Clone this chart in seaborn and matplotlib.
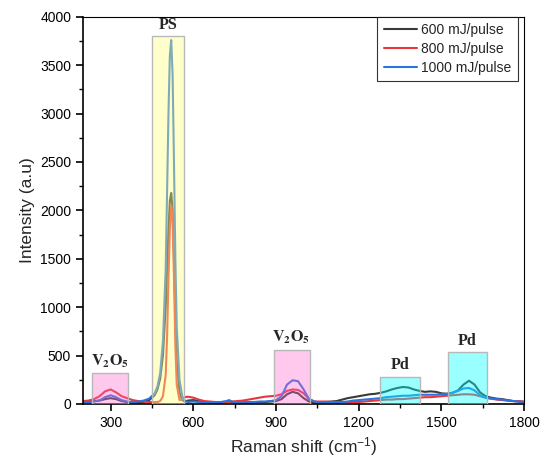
import matplotlib
matplotlib.use("Agg")
import matplotlib.pyplot as plt
import seaborn as sns
import pandas as pd
from matplotlib.ticker import MultipleLocator

# ---------------- data ----------------
raman_shift = [200, 220, 240, 260, 280, 300, 320, 340, 360, 380,
               400, 420, 440, 460, 470, 480, 490, 500, 505, 510,
               515, 520, 525, 530, 535, 540, 550, 560, 570, 580,
               600, 620, 640, 660, 680, 700, 720, 730, 740, 760,
               780, 800, 820, 840, 860, 880, 900, 920, 940, 960,
               980, 1000, 1020, 1040, 1060, 1080, 1100, 1120, 1140, 1160,
               1180, 1200, 1220, 1240, 1260, 1280, 1300, 1320, 1340, 1360,
               1380, 1400, 1420, 1440, 1460, 1480, 1500, 1520, 1540, 1560,
               1580, 1600, 1620, 1640, 1660, 1680, 1700, 1720, 1740, 1760,
               1780, 1800]

i_600 = [20, 25, 30, 35, 50, 60, 50, 30, 20, 15,
         15, 20, 40, 90, 150, 260, 500, 1000, 1400, 1800,
         2100, 2180, 2000, 1500, 900, 450, 120, 40, 25, 35,
         40, 30, 20, 15, 15, 15, 20, 25, 20, 15,
         15, 15, 15, 20, 20, 25, 30, 50, 100, 125,
         110, 60, 25, 15, 15, 20, 25, 30, 45, 60,
         70, 80, 90, 100, 105, 115, 130, 150, 165, 175,
         170, 150, 135, 125, 130, 125, 110, 105, 115, 140,
         200, 240, 200, 120, 80, 65, 55, 50, 40, 30,
         25, 20]

i_800 = [30, 35, 50, 80, 130, 150, 120, 80, 60, 40,
         30, 25, 20, 20, 20, 30, 80, 300, 700, 1300,
         1800, 2050, 1900, 1300, 600, 200, 40, 50, 70, 75,
         65, 45, 30, 25, 20, 20, 20, 25, 25, 30,
         35, 45, 55, 65, 75, 80, 85, 100, 135, 150,
         145, 110, 50, 25, 25, 25, 20, 20, 20, 20,
         20, 20, 25, 30, 35, 40, 45, 45, 50, 50,
         55, 60, 65, 70, 70, 75, 80, 85, 90, 95,
         100, 100, 95, 80, 65, 55, 45, 40, 35, 30,
         30, 25]

i_1000 = [20, 20, 25, 35, 70, 90, 70, 40, 25, 20,
          25, 35, 55, 110, 180, 320, 650, 1400, 2200, 3000,
          3600, 3760, 3400, 2500, 1500, 800, 250, 80, 30, 20,
          25, 20, 15, 15, 15, 20, 30, 40, 25, 15,
          15, 20, 20, 25, 25, 30, 40, 80, 200, 245,
          235, 150, 50, 25, 15, 15, 15, 15, 20, 25,
          35, 40, 45, 50, 55, 60, 70, 75, 80, 85,
          85, 90, 95, 95, 95, 95, 100, 105, 115, 135,
          160, 165, 140, 90, 65, 55, 50, 45, 35, 30,
          25, 20]

series_names = ["600 mJ/pulse", "800 mJ/pulse", "1000 mJ/pulse"]

# highlighted bands
band_left = [233, 451, 891, 1276, 1524]
band_right = [364, 567, 1022, 1422, 1665]
band_top = [320, 3800, 560, 280, 537]
band_labels = [r"$\mathbf{V_2O_5}$", "PS", r"$\mathbf{V_2O_5}$", "Pd", "Pd"]

# ---------------- style ----------------
sns.set_theme(style="ticks")
plt.rcParams["font.family"] = ["Liberation Sans", "DejaVu Sans"]
plt.rcParams["mathtext.fontset"] = "custom"
plt.rcParams["mathtext.rm"] = "Liberation Sans"
plt.rcParams["mathtext.it"] = "Liberation Sans:italic"
plt.rcParams["mathtext.bf"] = "Liberation Sans:bold"

line_colors = ["#3a3a3a", "#e8363c", "#2a74df"]
band_colors = ["#ff66cc", "#ffff80", "#ff66cc", "#00ffff", "#00ffff"]
band_alpha = [0.35, 0.4, 0.35, 0.4, 0.4]

df = pd.concat([
    pd.DataFrame({"shift": raman_shift, "intensity": vals, "series": name})
    for name, vals in zip(series_names, [i_600, i_800, i_1000])
], ignore_index=True)

fig = plt.figure(figsize=(5.46, 4.67), dpi=100)
ax = fig.add_axes([0.152, 0.135, 0.808, 0.829])

sns.lineplot(data=df, x="shift", y="intensity", hue="series",
             hue_order=series_names, palette=line_colors, linewidth=1.5,
             ax=ax, sort=False, estimator=None)

for l, r, t, lab, c, a in zip(band_left, band_right, band_top, band_labels,
                              band_colors, band_alpha):
    ax.bar(l, t, width=r - l, align="edge", color=c, alpha=a,
           edgecolor="none", zorder=3)
    ax.bar(l, t, width=r - l, align="edge", fill=False,
           edgecolor="#b8b8b8", linewidth=1.0, zorder=3)
    ax.text((l + r) / 2, t + 35, lab, ha="center", va="bottom",
            family="Liberation Serif", fontweight="bold", fontsize=11.5,
            math_fontfamily="stix", zorder=4)

ax.set_xlim(200, 1800)
ax.set_ylim(0, 4000)
ax.xaxis.set_major_locator(MultipleLocator(300))
ax.xaxis.set_minor_locator(MultipleLocator(150))
ax.yaxis.set_major_locator(MultipleLocator(500))
ax.yaxis.set_minor_locator(MultipleLocator(250))
ax.tick_params(axis="both", which="major", direction="out", length=5,
               width=1.2, labelsize=10, colors="black")
ax.tick_params(axis="both", which="minor", direction="out", length=3,
               width=1.0, colors="black")
for s in ax.spines.values():
    s.set_linewidth(1.2)
    s.set_color("black")
ax.spines["top"].set_visible(True)
ax.spines["right"].set_visible(True)
ax.spines["top"].set_linewidth(0.8)
ax.spines["right"].set_linewidth(0.8)

ax.set_xlabel(r"Raman shift (cm$^{-1}$)", fontsize=12.5)
ax.set_ylabel("Intensity (a.u)", fontsize=12.5)

leg = ax.legend(loc="upper right", bbox_to_anchor=(0.985, 1.0),
                borderaxespad=0, fontsize=10, handlelength=2.4,
                handletextpad=0.3, labelspacing=0.35, borderpad=0.45,
                frameon=True, fancybox=False, title=None)
leg.get_frame().set_edgecolor("black")
leg.get_frame().set_linewidth(0.8)

fig.savefig("out.png", dpi=100)
